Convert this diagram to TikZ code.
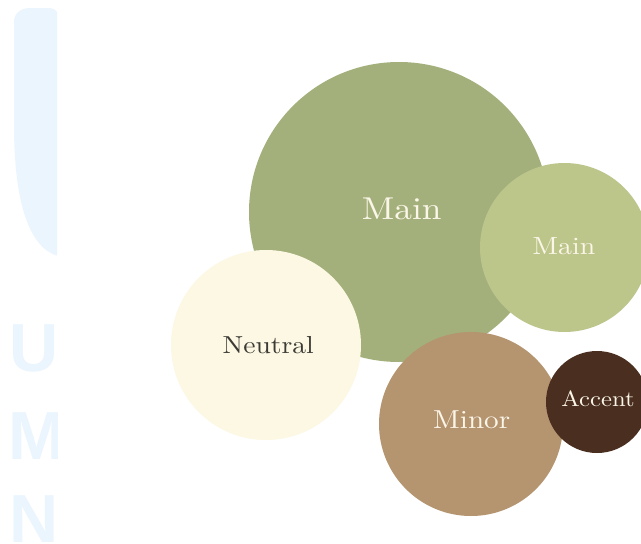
\documentclass[tikz,border=0pt]{standalone}
\usepackage{fontspec}
\newfontfamily\wmfont{Liberation Sans}
\newfontfamily\lblfont{lmroman10-regular.otf}[FakeStretch=1.12]
\definecolor{mainA}{HTML}{A3B07B}
\definecolor{mainB}{HTML}{BCC68B}
\definecolor{neutralc}{HTML}{FCF8E3}
\definecolor{minorc}{HTML}{B59470}
\definecolor{accentc}{HTML}{4A2E1F}
\definecolor{creamtxt}{HTML}{FBF6E8}
\definecolor{darktxt}{HTML}{3B3A34}
\definecolor{wmblue}{HTML}{EBF5FE}
\tikzset{
  bubble/.style={circle, inner sep=0pt, outer sep=0pt, draw=none},
  wmletter/.style={anchor=base west, inner sep=0pt, text=wmblue, font=\wmfont\bfseries\fontsize{68}{68}\selectfont},
  lbl/.style={anchor=base, inner sep=0pt},
}
\begin{document}
\begin{tikzpicture}[x=1pt,y=-1pt]
\useasboundingbox (0,0) rectangle (641,544);
\fill[white] (0,0) rectangle (641,544);
% watermark
\begin{scope}
\clip (0,0) rectangle (57,544);
\fill[wmblue] (14,22) .. controls (14,14) and (20,8) .. (30,8) -- (50,8) .. controls (56,9) and (58,12) .. (58,16) -- (58,256) .. controls (30,248) and (14,205) .. (14,124) -- cycle;
\node[wmletter] (wmU) at (9,371) {U};
\node[wmletter] (wmM) at (8,459) {M};
\node[wmletter] (wmN) at (9,542) {N};
\end{scope}
% bubbles
\node[bubble, fill=mainA, minimum size=300pt] (bigmain) at (399,212) {};
\node[bubble, fill=mainB, minimum size=169pt] (smallmain) at (564.5,247.5) {};
\node[bubble, fill=neutralc, minimum size=190pt] (neutral) at (266,345) {};
\node[bubble, fill=minorc, minimum size=184pt] (minor) at (471,424) {};
\node[bubble, fill=accentc, minimum size=102pt] (accent) at (597,402) {};
% labels
\node[lbl, text=creamtxt, font=\lblfont\fontsize{31.6}{36}\selectfont] (tbig) at ([xshift=2.7pt,yshift=-7.3pt]bigmain.center) {Main};
\node[lbl, text=creamtxt, font=\lblfont\fontsize{24.8}{28}\selectfont] (tsmall) at ([xshift=-0.5pt,yshift=-6.8pt]smallmain.center) {Main};
\node[lbl, text=darktxt, font=\lblfont\fontsize{24.6}{28}\selectfont] (tneutral) at ([xshift=2.3pt,yshift=-8.3pt]neutral.center) {Neutral};
\node[lbl, text=creamtxt, font=\lblfont\fontsize{26}{28}\selectfont] (tminor) at ([xshift=0.7pt,yshift=-4.3pt]minor.center) {Minor};
\node[lbl, text=creamtxt, font=\lblfont\fontsize{22}{26}\selectfont] (taccent) at ([xshift=1pt,yshift=-4pt]accent.center) {Accent};
\end{tikzpicture}
\end{document}
